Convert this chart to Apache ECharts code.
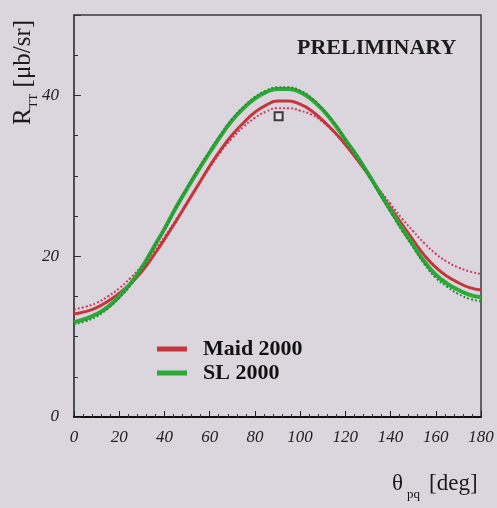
<!DOCTYPE html>
<html>
<head>
<meta charset="utf-8">
<script src="https://cdn.jsdelivr.net/npm/echarts@6/dist/echarts.min.js"></script>
<style>
  html, body { margin: 0; padding: 0; background: #dbd6de; }
  #chart { width: 497px; height: 508px; }
</style>
</head>
<body>
<div id="chart"></div>
<script>
// Angles theta_pq (deg)
const theta = [0, 5, 10, 15, 20, 25, 30, 35, 40, 45, 50, 55, 60, 65, 70, 75, 80, 85, 90,
               95, 100, 105, 110, 115, 120, 125, 130, 135, 140, 145, 150, 155, 160, 165, 170, 175, 180];
// Maid 2000 (solid red)
const maid2000 = [12.8, 13.1, 13.6, 14.4, 15.4, 16.6, 18.1, 20.0, 22.1, 24.3, 26.6, 28.9, 31.2, 33.3, 35.1, 36.6, 37.9, 38.8, 39.3,
                  39.3, 38.9, 38.1, 36.9, 35.5, 33.9, 32.1, 30.2, 28.1, 26.0, 24.0, 22.0, 20.1, 18.6, 17.5, 16.7, 16.1, 15.8];
// Maid 2000 variant (dotted red)
const maid2000b = [13.4, 13.7, 14.2, 15.0, 16.0, 17.3, 18.8, 20.5, 22.4, 24.5, 26.7, 28.9, 31.0, 33.0, 34.7, 36.1, 37.2, 38.0, 38.4,
                   38.4, 38.1, 37.6, 36.7, 35.4, 33.8, 32.0, 30.2, 28.3, 26.5, 24.7, 23.1, 21.6, 20.3, 19.3, 18.6, 18.1, 17.8];
// SL 2000 (solid green)
const sl2000 = [11.8, 12.2, 12.8, 13.7, 15.0, 16.6, 18.6, 21.0, 23.4, 26.0, 28.4, 30.7, 32.9, 35.0, 36.9, 38.4, 39.6, 40.4, 40.8,
                40.8, 40.4, 39.5, 38.2, 36.5, 34.5, 32.5, 30.3, 28.0, 25.7, 23.5, 21.4, 19.3, 17.7, 16.6, 15.8, 15.2, 14.9];
// SL 2000 variant (dotted green)
const sl2000b = [11.5, 11.9, 12.5, 13.5, 14.8, 16.4, 18.4, 20.9, 23.3, 26.0, 28.5, 30.9, 33.1, 35.2, 37.1, 38.6, 39.8, 40.6, 41.0,
                 41.0, 40.6, 39.7, 38.3, 36.6, 34.5, 32.4, 30.2, 27.8, 25.5, 23.2, 21.1, 19.0, 17.3, 16.2, 15.3, 14.7, 14.4];
// Measured point
const dataPoint = [[90.5, 37.4]];
// Axis tick labels shown
const yTickLabels = [0, 20, 40];

const pairs = (ys) => theta.map((t, i) => [t, ys[i]]);

const chart = echarts.init(document.getElementById('chart'), null, { renderer: 'canvas' });
const serif = '"Liberation Serif", "DejaVu Serif", serif';

chart.setOption({
  backgroundColor: '#dbd6de',
  animation: false,
  grid: { left: 74, right: 16, top: 15, bottom: 91, show: true, borderColor: '#3a3a40', borderWidth: 1.5, backgroundColor: 'transparent' },
  xAxis: {
    type: 'value', min: 0, max: 180, interval: 20,
    axisLine: { show: true, lineStyle: { color: '#111', width: 2 } },
    axisTick: { show: true, inside: true, length: 6, lineStyle: { color: '#222' } },
    minorTick: { show: true, splitNumber: 5, length: 3, lineStyle: { color: '#333' } },
    splitLine: { show: false },
    axisLabel: { fontFamily: serif, fontStyle: 'italic', fontSize: 17, color: '#222', margin: 12 }
  },
  yAxis: {
    type: 'value', min: 0, max: 50, interval: 20,
    axisLine: { show: true, lineStyle: { color: '#3d4a50', width: 1.5 } },
    axisTick: { show: true, inside: true, length: 7, lineStyle: { color: '#333' } },
    minorTick: { show: true, splitNumber: 4, length: 4, lineStyle: { color: '#333' } },
    splitLine: { show: false },
    axisLabel: {
      fontFamily: serif, fontStyle: 'italic', fontSize: 17, color: '#222', margin: 15,
      formatter: (v) => yTickLabels.includes(v) ? String(v) : ''
    }
  },
  legend: {
    left: 152, top: 332, orient: 'vertical', itemGap: 0,
    itemWidth: 30, itemHeight: 5, selectedMode: false,
    icon: 'rect',
    data: ['Maid 2000', 'SL 2000'],
    textStyle: { fontFamily: serif, fontWeight: 'bold', fontSize: 22, color: '#111', padding: [0, 0, 0, 11], lineHeight: 24 }
  },
  series: [
    { name: 'Maid 2000 (b)', type: 'line', data: pairs(maid2000b), smooth: true, showSymbol: false,
      lineStyle: { color: '#cc3a60', width: 2, type: [2, 2] }, itemStyle: { color: '#cc3a60' } },
    { name: 'Maid 2000', type: 'line', data: pairs(maid2000), smooth: true, showSymbol: false,
      lineStyle: { color: '#c4363c', width: 3 }, itemStyle: { color: '#c4363c' } },
    { name: 'SL 2000', type: 'line', data: pairs(sl2000), smooth: true, showSymbol: false,
      lineStyle: { color: '#2fa83a', width: 4 }, itemStyle: { color: '#2fa83a' } },
    { name: 'SL 2000 (b)', type: 'line', data: pairs(sl2000b), smooth: true, showSymbol: false,
      lineStyle: { color: '#248f30', width: 2, type: [2, 2] }, itemStyle: { color: '#248f30' } },
    { name: 'data', type: 'scatter', data: dataPoint, symbol: 'rect', symbolSize: 8,
      itemStyle: { color: '#e8e4ea', borderColor: '#111', borderWidth: 2 } }
  ],
  graphic: [
    { type: 'text', left: 297, top: 37,
      style: { text: 'PRELIMINARY', fontFamily: serif, fontWeight: 'bold', fontSize: 22, fill: '#1a1a1a' } },
    { type: 'text', x: 10, y: 125, rotation: Math.PI / 2,
      style: {
        text: '{a|R}{s|TT}{a| [μb/sr]}',
        fill: '#1a1a1a',
        rich: {
          a: { fontFamily: serif, fontSize: 25, fill: '#1a1a1a', verticalAlign: 'bottom', lineHeight: 26 },
          s: { fontFamily: serif, fontSize: 12, fill: '#1a1a1a', verticalAlign: 'bottom', lineHeight: 14, padding: [0, 0, -4, 0] }
        }
      } },
    { type: 'text', x: 392, y: 471,
      style: {
        text: '{a|θ}{s|pq}{b|[deg]}',
        fill: '#1a1a1a',
        rich: {
          a: { fontFamily: serif, fontSize: 23, fill: '#1a1a1a', verticalAlign: 'bottom', lineHeight: 24 },
          b: { fontFamily: serif, fontSize: 23, fill: '#1a1a1a', verticalAlign: 'bottom', lineHeight: 24, padding: [0, 0, 0, 9] },
          s: { fontFamily: serif, fontSize: 13, fill: '#1a1a1a', verticalAlign: 'bottom', lineHeight: 14, padding: [0, 0, -6, 4] }
        }
      } }
  ]
});
</script>
</body>
</html>
